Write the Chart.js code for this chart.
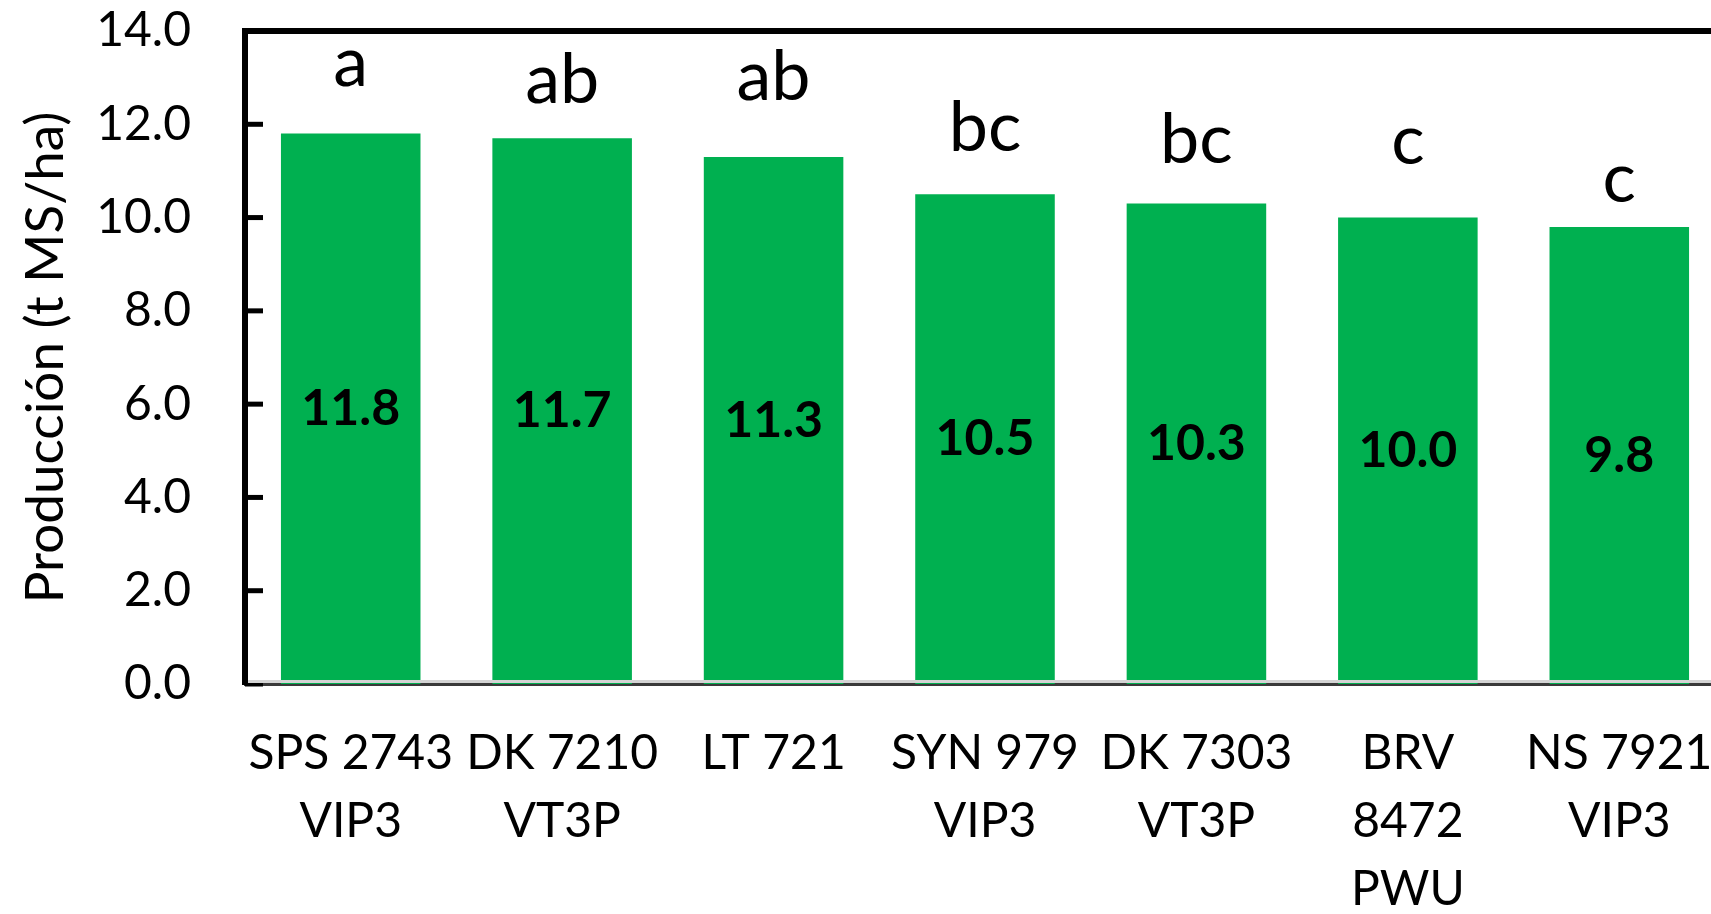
<!DOCTYPE html>
<html>
<head>
<meta charset="utf-8">
<title>Producción de híbridos</title>
<script src="https://cdn.jsdelivr.net/npm/chart.js@4.4.1/dist/chart.umd.min.js"></script>
<style>
  html, body { margin: 0; padding: 0; background: #fff; overflow: hidden; }
  #wrap { position: relative; width: 1760px; height: 914px; }
</style>
</head>
<body>
<div id="wrap"><canvas id="chart"></canvas></div>
<script>
// Hybrids (x categories), each label split over lines
const hybrids = [
  ["SPS 2743", "VIP3"],
  ["DK 7210", "VT3P"],
  ["LT 721"],
  ["SYN 979", "VIP3"],
  ["DK 7303", "VT3P"],
  ["BRV", "8472", "PWU"],
  ["NS 7921", "VIP3"],
];

// Dry matter yield (t MS/ha)
const production = [11.8, 11.7, 11.3, 10.5, 10.3, 10.0, 9.8];

// Significance letters and the level (t MS/ha) where each one sits
const letters = ["a", "ab", "ab", "bc", "bc", "c", "c"];
const letterLevels = [12.82, 12.45, 12.52, 11.42, 11.17, 11.14, 10.33];

// Y axis ticks
const yMin = 0;
const yMax = 14;
const yStep = 2;

const FONT = "Lato, 'Open Sans', sans-serif";

/**
 * Draws the frame bits Excel had: thick top line, inward tick marks,
 * value labels in the middle of bars and letters above them
 */
const annotations = {
  id: "annotations",
  afterDatasetsDraw(chart) {
    const { ctx } = chart;
    const yScale = chart.scales.y;
    const meta = chart.getDatasetMeta(0);

    ctx.save();
    // value labels, centred in each bar
    ctx.fillStyle = "#000";
    ctx.textAlign = "center";
    ctx.textBaseline = "middle";
    ctx.font = `bold 50px ${FONT}`;
    meta.data.forEach((bar, i) => {
      ctx.fillText(production[i].toFixed(1), bar.x, (bar.y + bar.base) / 2);
    });

    // letters above bars
    ctx.font = `70px ${FONT}`;
    ctx.textBaseline = "alphabetic";
    meta.data.forEach((bar, i) => {
      ctx.fillText(letters[i], bar.x, yScale.getPixelForValue(letterLevels[i]));
    });
    ctx.restore();
  },
  afterDraw(chart) {
    const { ctx, chartArea } = chart;
    const yScale = chart.scales.y;
    ctx.save();
    ctx.strokeStyle = "#000";

    // top frame line
    ctx.lineWidth = 6;
    ctx.beginPath();
    ctx.moveTo(chartArea.left - 3, chartArea.top);
    ctx.lineTo(chart.width, chartArea.top);
    ctx.stroke();

    // inward tick marks on the y axis
    ctx.lineWidth = 5;
    yScale.ticks.forEach((t) => {
      const y = yScale.getPixelForValue(t.value);
      ctx.beginPath();
      ctx.moveTo(chartArea.left, y);
      ctx.lineTo(chartArea.left + 18, y);
      ctx.stroke();
    });

    // faint shadow above the category axis line
    ctx.strokeStyle = "#d4d4d4";
    ctx.lineWidth = 3;
    ctx.beginPath();
    ctx.moveTo(chartArea.left + 3, chartArea.bottom - 2.5);
    ctx.lineTo(chart.width, chartArea.bottom - 2.5);
    ctx.stroke();
    ctx.restore();
  },
};

const ctx = document.getElementById("chart").getContext("2d");

new Chart(ctx, {
  type: "bar",
  data: {
    labels: hybrids,
    datasets: [
      {
        label: "Producción",
        data: production,
        backgroundColor: "#00b050",
        borderWidth: 0,
        barPercentage: 0.66,
        categoryPercentage: 1.0,
      },
    ],
  },
  options: {
    responsive: true,
    maintainAspectRatio: false,
    animation: false,
    devicePixelRatio: 1,
    layout: { autoPadding: false, padding: { top: 31, right: 35, bottom: 0, left: 0 } },
    plugins: {
      legend: { display: false },
      tooltip: { enabled: false },
    },
    scales: {
      x: {
        grid: { display: false, drawTicks: false },
        border: { display: true, color: "#3a3a3a", width: 3 },
        ticks: {
          autoSkip: false,
          maxRotation: 0,
          minRotation: 0,
          padding: 36,
          color: "#000",
          font: { family: FONT, size: 48, lineHeight: 68 / 48 },
        },
        afterFit: (axis) => {
          axis.height = 230;
          axis.paddingLeft = 0;
          axis.paddingRight = 0;
        },
      },
      y: {
        min: yMin,
        max: yMax,
        grid: { display: false, drawTicks: false },
        border: { display: true, color: "#000", width: 6 },
        ticks: {
          stepSize: yStep,
          padding: 54,
          color: "#000",
          font: { family: FONT, size: 48 },
          callback: (v) => Number(v).toFixed(1),
        },
        title: {
          display: true,
          text: "Producción (t MS/ha)",
          color: "#000",
          padding: { top: 14, bottom: 0 },
          font: { family: FONT, size: 53, lineHeight: 1.2 },
        },
        afterFit: (axis) => {
          axis.width = 245;
          axis.paddingTop = 0;
          axis.paddingBottom = 0;
        },
      },
    },
  },
  plugins: [annotations],
});
</script>
</body>
</html>
